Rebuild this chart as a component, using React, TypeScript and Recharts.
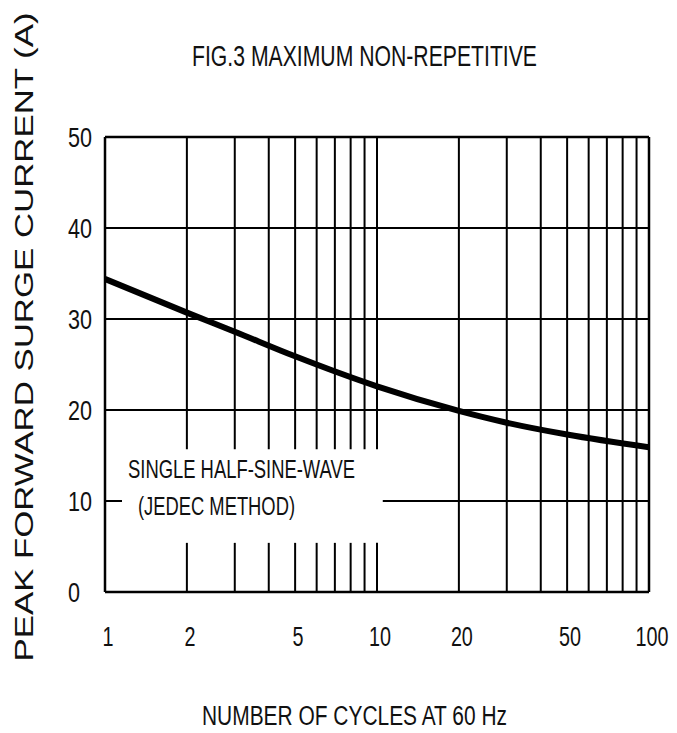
import React from 'react';
import { LineChart, Line, XAxis, YAxis, ReferenceLine } from 'recharts';

const cycles = [1, 2, 3, 5, 10, 20, 30, 50, 100];
const current = [34.4, 30.7, 28.6, 25.9, 22.6, 19.9, 18.6, 17.3, 15.9];

const xTicks = [1, 2, 5, 10, 20, 50, 100];
const yTicks = [0, 10, 20, 30, 40, 50];
const minorCutX = [2, 3, 4, 5, 6, 7, 8, 9, 10];
const fullX = [20, 30, 40, 50, 60, 70, 80, 90];
const fullY = [20, 30, 40];

const titleText = 'FIG.3 MAXIMUM NON-REPETITIVE';
const xLabelText = 'NUMBER OF CYCLES AT 60 Hz';
const yLabelText = 'PEAK FORWARD SURGE CURRENT (A)';
const noteLine1 = 'SINGLE HALF-SINE-WAVE';
const noteLine2 = '(JEDEC METHOD)';

// cut-out box (data units) where the note text sits
const cutLowY = 5.4;
const cutHighY = 15.7;
const cutLeftX = 1.155;
const cutRightX = 10.5;

const data = cycles.map((c, i) => ({ cycles: c, current: current[i] }));

const NARROW = "'Liberation Sans Narrow', 'Arial Narrow', 'Liberation Sans', Arial, sans-serif";
const REG = "'Liberation Sans', Arial, sans-serif";

const XTick = (props: any) => {
  const { x, y, payload } = props;
  const s = String(payload.value);
  return (
    <text x={x + 3} y={y + 46} textAnchor="middle" fontFamily={NARROW} fontSize={28} fill="#111"
      textLength={s.length * 11} lengthAdjust="spacingAndGlyphs">
      {s}
    </text>
  );
};

const YTick = (props: any) => {
  const { y, payload } = props;
  const s = String(payload.value);
  return (
    <text x={68} y={y + 10} textAnchor="start" fontFamily={NARROW} fontSize={28} fill="#111"
      textLength={s.length * 12} lengthAdjust="spacingAndGlyphs">
      {s}
    </text>
  );
};

const G = { stroke: '#000', strokeWidth: 2 };

export default function App() {
  return (
    <div style={{ position: 'absolute', left: 0, top: 0, width: 677, height: 733, background: '#fff' }}>
      <LineChart width={677} height={733} data={data}
        margin={{ top: 137, right: 28, bottom: 91, left: 0 }}>
        <XAxis dataKey="cycles" type="number" scale="log" domain={[1, 100]} ticks={xTicks}
          allowDataOverflow axisLine={false} tickLine={false} height={50} tick={<XTick />} interval={0} />
        <YAxis type="number" domain={[0, 50]} ticks={yTicks} axisLine={false} tickLine={false}
          width={105} tick={<YTick />} interval={0} />
        {fullY.map((v) => (
          <ReferenceLine key={'fy' + v} y={v} {...G} />
        ))}
        {fullX.map((v) => (
          <ReferenceLine key={'fx' + v} x={v} {...G} />
        ))}
        {minorCutX.map((v) => (
          <ReferenceLine key={'cl' + v} segment={[{ x: v, y: 0 }, { x: v, y: cutLowY }]} {...G} />
        ))}
        {minorCutX.map((v) => (
          <ReferenceLine key={'ch' + v} segment={[{ x: v, y: cutHighY }, { x: v, y: 50 }]} {...G} />
        ))}
        <ReferenceLine segment={[{ x: 1, y: 10 }, { x: cutLeftX, y: 10 }]} {...G} />
        <ReferenceLine segment={[{ x: cutRightX, y: 10 }, { x: 100, y: 10 }]} {...G} />
        <ReferenceLine y={50} stroke="#000" strokeWidth={2.5} />
        <ReferenceLine y={0} stroke="#000" strokeWidth={2.5} />
        <ReferenceLine x={1} stroke="#000" strokeWidth={2.5} />
        <ReferenceLine x={100} stroke="#000" strokeWidth={2.5} />
        <Line dataKey="current" type="monotone" stroke="#000" strokeWidth={6} dot={false}
          isAnimationActive={false} activeDot={false} />
      </LineChart>
      <svg width={677} height={733} style={{ position: 'absolute', left: 0, top: 0, pointerEvents: 'none' }}>
        <text x={192} y={66} textAnchor="start" fontFamily={NARROW} fontSize={29} fill="#111"
          textLength={345} lengthAdjust="spacingAndGlyphs">{titleText}</text>
        <text x={202} y={725} textAnchor="start" fontFamily={NARROW} fontSize={27} fill="#111"
          textLength={305} lengthAdjust="spacingAndGlyphs">{xLabelText}</text>
        <text x={0} y={0} transform="translate(33,337) rotate(-90)" textAnchor="middle" fontFamily={REG}
          fontSize={26} fill="#111" textLength={649} lengthAdjust="spacingAndGlyphs">{yLabelText}</text>
        <text x={128} y={478} textAnchor="start" fontFamily={NARROW} fontSize={25} fill="#111"
          textLength={227} lengthAdjust="spacingAndGlyphs">{noteLine1}</text>
        <text x={138} y={515} textAnchor="start" fontFamily={NARROW} fontSize={25} fill="#111"
          textLength={157} lengthAdjust="spacingAndGlyphs">{noteLine2}</text>
      </svg>
    </div>
  );
}
